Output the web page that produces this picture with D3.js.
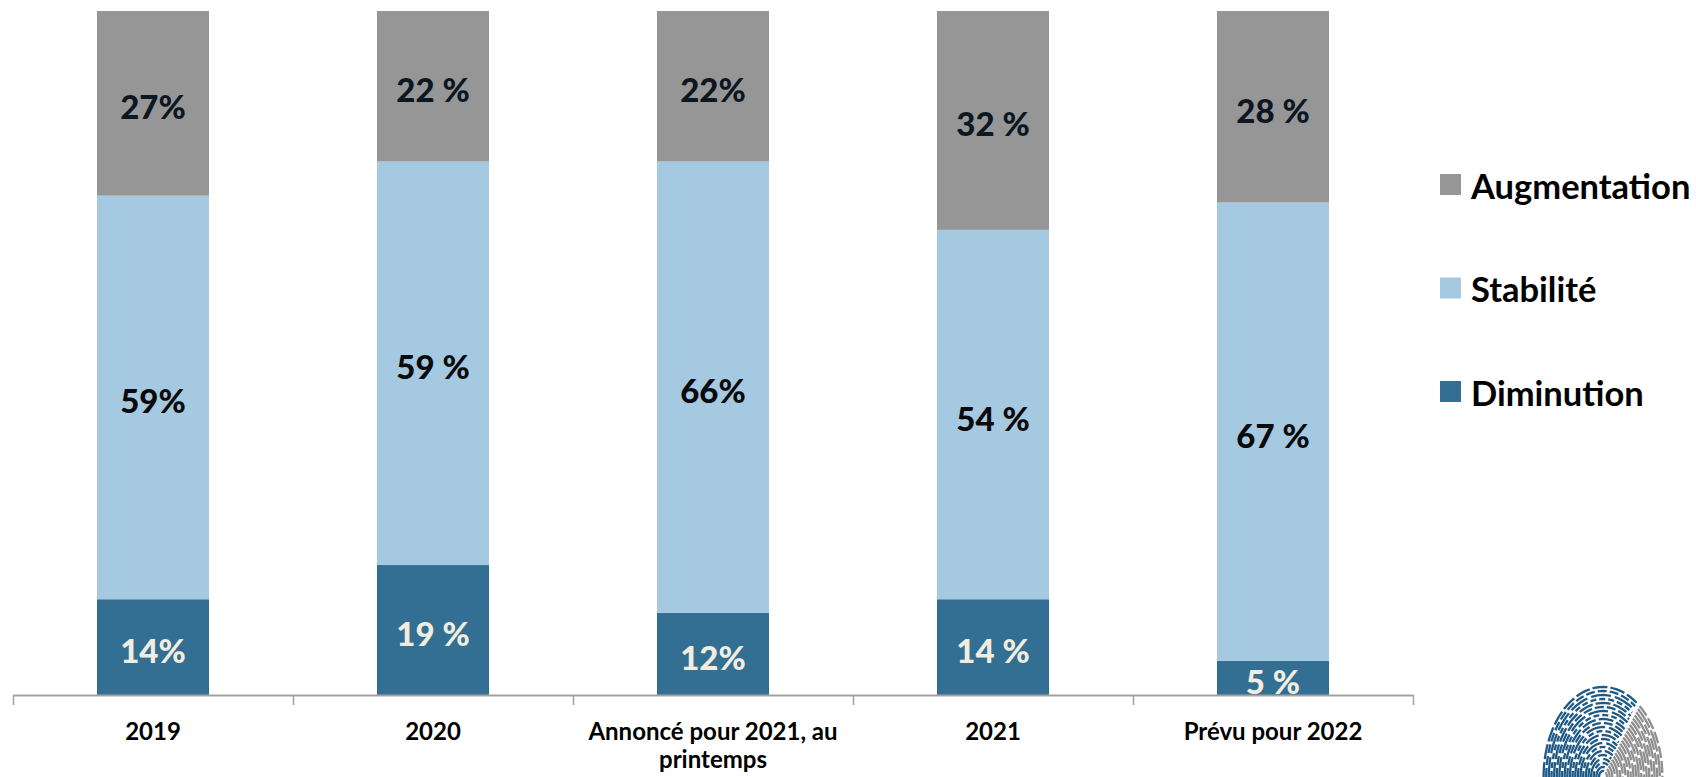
<!DOCTYPE html>
<html>
<head>
<meta charset="utf-8">
<script src="https://cdn.jsdelivr.net/npm/d3@7"></script>
<style>
  body { margin: 0; background: #fff; }
  text { font-family: Lato, "Open Sans", sans-serif; font-weight: bold; }
</style>
</head>
<body>
<div id="chart"></div>
<script>
var svgWidth = 1696;
var svgHeight = 777;

// chart data
var categories = ["2019", "2020", "Annoncé pour 2021, au printemps", "2021", "Prévu pour 2022"];
var diminution = [14, 19, 12, 14, 5];
var stabilite = [59, 59, 66, 54, 67];
var augmentation = [27, 22, 22, 32, 28];
// some columns are written "59 %" and others "59%"
var pctSeparator = ["", " ", "", " ", " "];
var seriesNames = ["Diminution", "Stabilité", "Augmentation"];
var legendOrder = ["Augmentation", "Stabilité", "Diminution"];

var colors = {
  "Diminution": "#336f92",
  "Stabilité": "#a5c9e0",
  "Augmentation": "#969696"
};
var labelColors = {
  "Diminution": "#f1ede0",
  "Stabilité": "#0a0a0a",
  "Augmentation": "#0c1722"
};

var axisLeft = 13, axisRight = 1413;
var axisY = 695, plotTop = 11;

var svg = d3.select("#chart")
  .append("svg")
  .attr("width", svgWidth)
  .attr("height", svgHeight);

var x = d3.scaleBand()
  .domain(categories)
  .range([axisLeft, axisRight])
  .paddingInner(0.6)
  .paddingOuter(0.3);

var y = d3.scaleLinear()
  .domain([0, 100])
  .range([axisY, plotTop]);

// build rows for the stack
var rows = categories.map(function(c, i) {
  return {
    category: c,
    sep: pctSeparator[i],
    "Diminution": diminution[i],
    "Stabilité": stabilite[i],
    "Augmentation": augmentation[i]
  };
});

var stacked = d3.stack().keys(seriesNames)(rows);

var layers = svg.append("g")
  .selectAll("g")
  .data(stacked)
  .enter()
  .append("g")
  .attr("fill", d => colors[d.key]);

layers.selectAll("rect")
  .data(d => d)
  .enter()
  .append("rect")
  .attr("x", d => x(d.data.category))
  .attr("y", d => y(d[1]))
  .attr("width", x.bandwidth())
  .attr("height", d => y(d[0]) - y(d[1]));

// value labels
stacked.forEach(function(layer) {
  svg.append("g")
    .selectAll("text")
    .data(layer)
    .enter()
    .append("text")
    .attr("x", d => x(d.data.category) + x.bandwidth() / 2)
    .attr("y", d => (y(d[0]) + y(d[1])) / 2 + 3)
    .attr("text-anchor", "middle")
    .attr("dominant-baseline", "central")
    .style("font-size", "33px")
    .style("font-weight", 900)
    .attr("fill", labelColors[layer.key])
    .text(d => (d[1] - d[0]) + d.data.sep + "%");
});

// x axis with ticks between categories
var boundary = d3.scaleLinear()
  .domain([0, categories.length])
  .range([axisLeft, axisRight]);

var xAxis = svg.append("g")
  .attr("transform", `translate(0, ${axisY})`)
  .call(d3.axisBottom(boundary)
    .tickValues(d3.range(categories.length + 1))
    .tickFormat("")
    .tickSize(10)
    .tickSizeOuter(0));

xAxis.select(".domain").attr("stroke", "#a3a3a3").attr("stroke-width", 2);
xAxis.selectAll(".tick line").attr("stroke", "#a3a3a3").attr("stroke-width", 1.5);

// category labels, wrapped
function wrap(textSel, width) {
  textSel.each(function() {
    var text = d3.select(this);
    var words = text.text().split(/\s+/);
    var line = [];
    var tx = text.attr("x");
    var tspan = text.text(null).append("tspan").attr("x", tx).attr("dy", 0);
    words.forEach(function(w) {
      line.push(w);
      tspan.text(line.join(" "));
      if (tspan.node().getComputedTextLength() > width && line.length > 1) {
        line.pop();
        tspan.text(line.join(" "));
        line = [w];
        tspan = text.append("tspan").attr("x", tx).attr("dy", "1.15em").text(w);
      }
    });
  });
}

svg.append("g")
  .selectAll("text")
  .data(categories)
  .enter()
  .append("text")
  .attr("x", d => x(d) + x.bandwidth() / 2)
  .attr("y", 740)
  .attr("text-anchor", "middle")
  .style("font-size", "24px")
  .attr("fill", "#000")
  .text(d => d)
  .call(wrap, 270);

// legend
var legend = svg.append("g")
  .selectAll("g")
  .data(legendOrder)
  .enter()
  .append("g")
  .attr("transform", (d, i) => `translate(1440, ${174 + i * 103.5})`);

legend.append("rect")
  .attr("width", 21)
  .attr("height", 21)
  .attr("fill", d => colors[d]);

legend.append("text")
  .attr("x", 31)
  .attr("y", 11)
  .attr("dominant-baseline", "central")
  .style("font-size", "34.5px")
  .attr("fill", "#000")
  .text(d => d);

// fingerprint logo, bottom right
var logo = svg.append("g")
  .attr("transform", "translate(1603, 777)");

var splitAngle = Math.atan2(-63, 46); // where blue turns to gray
d3.range(6, 91, 4).forEach(function(r, i) {
  var rx = r * 0.66, ry = r;
  var dash = ["9 3", "15 3", "6 3", "20 4"][i % 4];
  function arcPath(a0, a1) {
    var pts = d3.range(0, 41).map(function(k) {
      var a = a0 + (a1 - a0) * k / 40;
      return [rx * Math.cos(a), ry * Math.sin(a)];
    });
    return d3.line()(pts);
  }
  logo.append("path")
    .attr("d", arcPath(-Math.PI, splitAngle - 0.03))
    .attr("fill", "none")
    .attr("stroke", "#1f5a87")
    .attr("stroke-width", 2.3)
    .attr("stroke-dasharray", dash);
  logo.append("path")
    .attr("d", arcPath(splitAngle + 0.03, 0))
    .attr("fill", "none")
    .attr("stroke", "#8f8f8f")
    .attr("stroke-width", 2.3)
    .attr("stroke-dasharray", i % 2 ? "12 3" : "22 3");
});
</script>
</body>
</html>
